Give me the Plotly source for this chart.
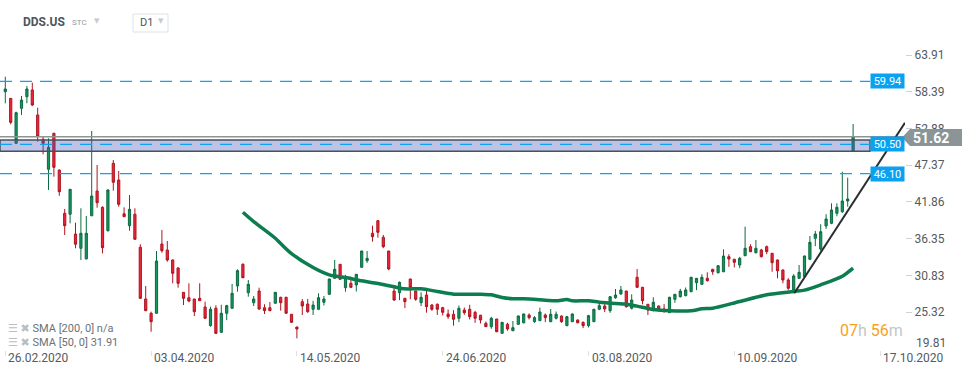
import plotly.graph_objects as go

# ---------------- data ----------------
date_labels = ["26.02.2020", "03.04.2020", "14.05.2020", "24.06.2020",
               "03.08.2020", "10.09.2020", "17.10.2020"]
date_label_idx = [0, 27, 54, 81, 108, 135, 162]

opens = [58.4, 57.4, 50.65, 55.9, 57.65, 58.66, 54.9, 51.25, 46.75, 52.15,
         46.64, 40.14, 40.0, 37.03, 34.89, 33.3, 39.78, 43.49, 41.04, 37.53,
         47.65, 45.14, 40.08, 38.28, 40.0, 35.04, 27.27, 25.13, 25.13, 35.53,
         34.63, 33.13, 31.93, 28.28, 27.47, 27.27, 27.38, 26.07, 23.27, 25.88,
         22.27, 25.13, 25.88, 29.23, 32.48, 28.22, 26.72, 28.47, 25.97, 25.97,
         26.63, 27.53, 27.53, 24.98, 23.07, 26.87, 26.52, 25.73, 25.73, 26.78,
         27.98, 30.38, 32.48, 28.97, 29.63, 29.38, 32.03, 33.02, 37.14, 39.03,
         36.54, 34.48, 28.47, 28.22, 27.38, 30.28, 28.47, 26.72, 27.87, 26.37,
         26.48, 25.97, 25.02, 24.98, 24.38, 25.62, 25.73, 25.27, 24.83, 23.62,
         23.12, 24.27, 22.12, 23.47, 22.51, 23.47, 23.71, 24.87, 23.87, 24.02,
         24.87, 23.87, 24.38, 24.72, 23.27, 23.87, 24.12, 23.77, 23.27, 23.87,
         25.73, 26.22, 25.52, 27.47, 28.03, 28.47, 25.88, 30.53, 29.03, 26.48,
         25.62, 26.22, 25.77, 25.22, 27.23, 27.62, 27.77, 28.37, 29.72, 29.48,
         30.38, 31.73, 31.22, 31.37, 33.63, 33.24, 32.38, 33.78, 35.13, 34.23,
         34.63, 35.13, 34.13, 33.13, 31.63, 30.13, 28.63, 30.38, 30.63, 33.24,
         36.39, 34.78, 38.23, 38.64, 40.14, 40.38, 41.99, 49.54]
highs = [60.65, 57.45, 55.4, 57.75, 59.25, 59.75, 56.0, 51.75, 51.4, 52.24,
         46.7, 40.79, 43.8, 38.73, 40.89, 39.74, 52.5, 47.4, 41.2, 43.74,
         48.14, 46.49, 41.04, 42.89, 40.89, 35.49, 29.23, 25.37, 34.48, 37.63,
         35.98, 33.2, 32.03, 28.3, 29.63, 27.3, 29.63, 26.87, 26.12, 26.33,
         26.4, 26.4, 29.53, 31.73, 32.63, 30.13, 27.72, 28.97, 26.48, 26.82,
         28.3, 27.6, 27.6, 25.0, 23.1, 27.27, 27.27, 27.0, 28.13, 27.72,
         30.3, 33.13, 32.5, 30.9, 30.6, 31.0, 34.5, 34.48, 38.28, 39.13,
         36.9, 34.5, 29.38, 29.9, 27.4, 30.3, 28.5, 28.28, 28.6, 26.5,
         26.6, 26.1, 25.7, 25.6, 26.3, 26.0, 26.4, 25.5, 24.9, 23.9,
         24.6, 24.3, 23.8, 23.7, 23.97, 24.8, 25.1, 25.1, 24.7, 25.97,
         25.1, 25.77, 25.4, 24.8, 24.7, 25.1, 24.2, 23.9, 24.9, 25.8,
         26.7, 26.5, 27.7, 28.78, 29.23, 28.5, 27.98, 31.78, 29.1, 26.5,
         27.53, 26.3, 26.5, 27.6, 28.0, 28.8, 29.0, 30.6, 30.4, 31.0,
         31.28, 31.8, 32.3, 34.73, 34.0, 33.3, 33.6, 38.13, 35.49, 36.13,
         34.8, 35.3, 34.2, 33.2, 31.7, 30.4, 31.0, 32.38, 33.8, 36.73,
         37.5, 38.5, 40.0, 41.64, 41.64, 46.39, 45.49, 53.55]
lows = [56.66, 53.5, 50.6, 54.9, 56.66, 56.25, 50.9, 49.0, 43.64, 45.64,
        42.78, 36.88, 38.64, 34.89, 33.13, 33.2, 39.7, 40.98, 34.13, 37.4,
        43.54, 41.13, 39.6, 37.53, 36.2, 27.3, 25.45, 22.36, 25.1, 34.22,
        32.87, 29.63, 28.97, 26.37, 26.78, 24.72, 27.0, 24.3, 23.12, 22.0,
        22.2, 24.1, 25.8, 28.37, 30.4, 27.62, 26.22, 25.62, 25.02, 25.45,
        26.6, 25.52, 25.1, 23.7, 21.37, 24.87, 25.2, 24.87, 25.6, 26.3,
        27.9, 30.3, 30.2, 28.37, 28.9, 28.4, 32.0, 32.7, 35.88, 36.48,
        34.9, 31.6, 27.0, 27.1, 25.9, 27.23, 27.0, 26.22, 25.22, 25.5,
        24.87, 24.8, 24.3, 23.27, 23.8, 24.9, 24.2, 23.7, 23.6, 23.1,
        22.8, 22.3, 22.1, 22.5, 22.45, 23.4, 23.6, 24.2, 23.7, 24.0,
        23.8, 23.8, 24.2, 23.7, 23.2, 23.8, 23.6, 22.9, 23.0, 23.8,
        25.6, 25.3, 25.2, 27.3, 27.9, 25.97, 25.7, 29.0, 26.48, 24.87,
        25.4, 25.4, 25.2, 25.2, 26.7, 27.5, 27.7, 28.3, 28.6, 29.4,
        29.9, 30.9, 31.1, 31.3, 32.1, 32.0, 31.9, 33.7, 34.3, 34.1,
        33.5, 34.0, 31.37, 30.38, 29.63, 28.63, 28.5, 30.3, 30.5, 33.1,
        35.2, 34.5, 37.8, 38.5, 39.7, 40.2, 41.13, 49.5]
closes = [58.8, 53.8, 55.25, 57.15, 58.8, 56.4, 51.65, 50.65, 50.05, 47.05,
          43.38, 38.28, 43.74, 35.5, 37.14, 37.14, 42.74, 41.73, 34.98, 43.64,
          44.8, 41.49, 39.63, 40.74, 36.24, 27.38, 25.52, 23.87, 32.98, 34.53,
          33.13, 31.13, 29.63, 27.38, 26.97, 25.37, 27.02, 24.38, 25.73, 22.12,
          25.13, 26.27, 28.13, 31.52, 30.47, 29.48, 27.27, 25.77, 25.52, 25.52,
          28.28, 26.72, 25.13, 23.77, 22.77, 26.22, 25.37, 26.37, 27.47, 27.27,
          30.28, 31.73, 30.23, 30.47, 29.03, 30.98, 34.48, 33.38, 36.63, 37.29,
          35.13, 31.78, 27.12, 29.77, 26.87, 29.03, 27.23, 27.53, 26.12, 25.73,
          25.73, 25.27, 24.62, 24.23, 25.88, 25.22, 24.62, 24.38, 24.12, 23.12,
          24.38, 22.36, 23.77, 22.77, 22.97, 24.72, 25.02, 24.47, 24.47, 25.32,
          24.47, 24.98, 24.98, 23.87, 24.62, 25.02, 23.71, 23.27, 24.77, 25.73,
          26.27, 25.77, 27.62, 27.87, 28.63, 26.12, 27.12, 29.03, 27.02, 25.62,
          26.78, 25.73, 25.47, 27.53, 27.98, 28.47, 28.63, 30.53, 30.38, 30.53,
          30.02, 31.37, 32.27, 33.73, 33.28, 32.78, 33.38, 34.89, 34.38, 34.89,
          33.63, 34.38, 32.72, 31.52, 30.13, 28.88, 30.73, 31.28, 33.73, 35.79,
          37.03, 37.38, 39.29, 40.64, 41.04, 41.99, 42.29, 51.62]

sma_idx = [44, 46, 50, 51, 53, 57, 60, 63, 66, 69, 72, 74, 77, 80, 83, 88, 90,
           92, 94, 96, 100, 102, 104, 105, 108, 110, 113, 115, 117, 120, 123,
           127, 129, 131, 136, 141, 146, 148, 151, 155, 157]
sma_vals = [40.3, 38.9, 36.4, 35.6, 34.1, 32.0, 30.9, 30.5, 30.0, 29.6, 29.1,
            28.8, 28.8, 28.4, 28.0, 28.0, 27.9, 27.5, 27.3, 27.3, 27.1, 27.0,
            27.2, 27.0, 27.0, 26.8, 26.6, 26.5, 26.2, 25.7, 25.5, 25.5, 25.8,
            25.9, 26.9, 27.9, 28.4, 28.6, 29.4, 30.7, 31.91]

y_ticks = [19.81, 25.32, 30.83, 36.35, 41.86, 47.37, 52.88, 58.39, 63.91]
level_lines = [59.94, 50.50, 46.10]
band_low, band_high = 49.45, 51.15
last_price = 51.62
trend_start = (146.1, 28.13)
trend_end = (166.6, 53.75)

# ---------------- layout helpers ----------------
W, H = 974, 375
ML, MR, MT, MB = 0, 69, 40, 25
PW, PH = W - ML - MR, H - MT - MB


def px(x):
    return (x - ML) / PW


def py(y):
    return (H - MB - y) / PH


FONT = "Roboto, DejaVu Sans, sans-serif"

fig = go.Figure()
fig.add_trace(go.Candlestick(
    x=list(range(len(opens))), open=opens, high=highs, low=lows, close=closes,
    increasing=dict(line=dict(color="#0b6b42", width=1), fillcolor="#16965d"),
    decreasing=dict(line=dict(color="#b0141f", width=1), fillcolor="#e8283c"),
    whiskerwidth=0, showlegend=False, hoverinfo="skip"))

fig.add_trace(go.Scatter(
    x=sma_idx, y=sma_vals, mode="lines",
    line=dict(color="#0b7d4e", width=3.5, shape="spline", smoothing=0.8),
    showlegend=False, hoverinfo="skip"))

shapes = []
# current price line
shapes.append(dict(type="line", xref="paper", yref="y", x0=0, x1=1,
                   y0=last_price, y1=last_price,
                   line=dict(color="#8c9496", width=1.5), layer="above"))
# band
shapes.append(dict(type="rect", xref="paper", yref="y", x0=0, x1=px(870),
                   y0=band_low, y1=band_high,
                   fillcolor="rgba(75,85,185,0.36)",
                   line=dict(color="#46525c", width=1.5), layer="above"))
# dashed levels
for lv in level_lines:
    shapes.append(dict(type="line", xref="paper", yref="y", x0=0, x1=px(870),
                       y0=lv, y1=lv,
                       line=dict(color="#0fa2f0", width=1.3, dash="12px,8px"),
                       layer="above"))
# trend line
shapes.append(dict(type="line", xref="x", yref="y",
                   x0=trend_start[0], y0=trend_start[1],
                   x1=trend_end[0], y1=trend_end[1],
                   line=dict(color="#2b2e30", width=2), layer="above"))
# price tag arrow box
tag_path = "M {} {} L {} {} L {} {} L {} {} L {} {} Z".format(
    px(902), py(137.5), px(910), py(129), px(962), py(129),
    px(962), py(146), px(910), py(146))
shapes.append(dict(type="path", xref="paper", yref="paper", path=tag_path,
                   fillcolor="#8b9497", line=dict(width=0), layer="above"))
# D1 box
shapes.append(dict(type="rect", xref="paper", yref="paper",
                   x0=px(133), x1=px(168), y0=py(32), y1=py(14),
                   fillcolor="white", line=dict(color="#dde2e6", width=1)))

ann = []
for lv, lab in zip(level_lines, ["59.94", "50.50", "46.10"]):
    ann.append(dict(xref="paper", yref="y", x=1, y=lv, xanchor="right",
                    yanchor="middle", text=lab, showarrow=False,
                    bgcolor="#0aa2f0", width=33, height=14, borderpad=0,
                    font=dict(family=FONT, size=11, color="white")))
ann.append(dict(xref="paper", yref="paper", x=px(931), y=py(137.5),
                text="<b>51.62</b>", showarrow=False, xanchor="center",
                yanchor="middle",
                font=dict(family=FONT, size=14, color="white")))
for idx, lab in zip(date_label_idx, date_labels):
    ann.append(dict(xref="x", yref="paper", x=idx, y=py(358), text=lab,
                    showarrow=False, xanchor="left", yanchor="middle",
                    xshift=1, font=dict(family=FONT, size=12, color="#555b60")))
# lowest axis value is drawn lifted above the date row, without a tick
ann.append(dict(xref="paper", yref="paper", x=px(914), y=py(343),
                text="%.2f" % y_ticks[0], showarrow=False, xanchor="left",
                yanchor="middle", font=dict(family=FONT, size=12, color="#555b60")))
# header
ann.append(dict(xref="paper", yref="paper", x=px(21), y=py(22), text="<b>DDS.US</b>",
                showarrow=False, xanchor="left", yanchor="middle",
                font=dict(family=FONT, size=12, color="#4a5560")))
ann.append(dict(xref="paper", yref="paper", x=px(70), y=py(23), text="STC",
                showarrow=False, xanchor="left", yanchor="middle",
                font=dict(family=FONT, size=8, color="#8e9bab")))
for tx in [96.5, 161]:
    ann.append(dict(xref="paper", yref="paper", x=px(tx), y=py(21), text="▼",
                    showarrow=False, xanchor="center", yanchor="middle",
                    font=dict(family="DejaVu Sans", size=7, color="#c4cad0")))
ann.append(dict(xref="paper", yref="paper", x=px(138), y=py(23), text="D1",
                showarrow=False, xanchor="left", yanchor="middle",
                font=dict(family=FONT, size=11, color="#4a5560")))
# indicator texts
for yy, txt in [(328, "SMA [200, 0] n/a"), (342, "SMA [50, 0] 31.91")]:
    ann.append(dict(xref="paper", yref="paper", x=px(6), y=py(yy),
                    text="<span style='color:#b9bec3'>☰ ✖</span> " + txt,
                    showarrow=False, xanchor="left", yanchor="middle",
                    font=dict(family=FONT, size=11, color="#6b7278")))
# timer
ann.append(dict(xref="paper", yref="paper", x=px(905), y=py(330),
                text="<span style='color:#f7a21b'>07</span><span style='color:#c3c7cb'>h</span> "
                     "<span style='color:#f7a21b'>56</span><span style='color:#c3c7cb'>m</span>",
                showarrow=False, xanchor="right", yanchor="middle",
                font=dict(family=FONT, size=16)))

fig.update_layout(
    width=W, height=H, margin=dict(l=ML, r=MR, t=MT, b=MB, autoexpand=False),
    paper_bgcolor="white", plot_bgcolor="white", boxgap=0.42,
    shapes=shapes, annotations=ann, showlegend=False,
    xaxis=dict(range=[(0 - 5.3) / 5.4, (PW - 5.3) / 5.4], rangeslider=dict(visible=False),
               showgrid=False, zeroline=False, showline=False,
               tickvals=date_label_idx, showticklabels=False,
               ticks="outside", ticklen=5, tickcolor="#dfe2e5"),
    yaxis=dict(side="right", range=[63.91 - (H - MB - 55) / 6.66, 63.91 + (55 - MT) / 6.66],
               tickvals=y_ticks[1:], ticktext=["%.2f" % t for t in y_ticks[1:]],
               showgrid=False, zeroline=False, showline=False,
               ticks="outside", ticklen=6, tickcolor="#cfd3d6",
               tickfont=dict(family=FONT, size=12, color="#555b60")),
)

fig.write_html("out.html", config={"displayModeBar": False},
               post_script="document.body.style.margin='0';document.body.style.overflow='hidden';")
